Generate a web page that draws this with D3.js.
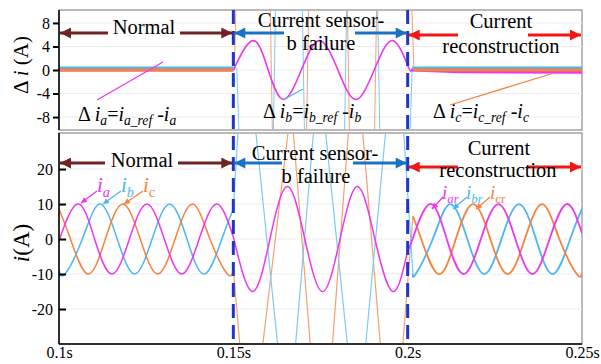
<!DOCTYPE html>
<html>
<head>
<meta charset="utf-8">
<script src="https://cdn.jsdelivr.net/npm/d3@7"></script>
<style>
  body { margin: 0; background: #fff; }
  svg { display: block; font-family: "Liberation Serif", "Times New Roman", serif; }
</style>
</head>
<body>
<svg id="chart" width="601" height="364"></svg>
<script>
// time in ms, current in A
const xTicks = [100, 150, 200, 250];
const topTicks = [8, 4, 0, -4, -8];
const botTicks = [20, 10, 0, -10, -20];
const faultTimes = [150, 200];

// bottom panel: phase currents
const iaNormal = [[100, -0.6], [100.2, 0], [105.2, 10], [110.2, 0], [115.2, -10], [120.2, 0], [125.2, 10], [130.2, 0], [135.2, -10], [140.2, 0], [145.2, 10], [150, 0.6]];
const ibNormal = [[100, -8.6], [101.7, -10], [106.7, 0], [111.7, 10], [116.7, 0], [121.7, -10], [126.7, 0], [131.7, 10], [136.7, 0], [141.7, -10], [146.7, 0], [150, 8.6]];
const icNormal = [[100, 8.6], [103.3, 0], [108.3, -10], [113.3, 0], [118.3, 10], [123.3, 0], [128.3, -10], [133.3, 0], [138.3, 10], [143.3, 0], [148.3, -10], [150, -8.6]];

const iaFail = [[150, 0.6], [155.5, -15], [160.5, 0], [165.5, 15], [170.5, 0], [175.6, -15], [180.6, 0], [185.6, 15], [190.6, 0], [195.7, -15], [200, -3.3]];
const ibFail = [[150, 8.6], [151.5, 33], [156.2, 33], [163, -33], [167.6, -33], [173.2, 33], [176.2, 33], [183, -33], [187.7, -33], [193.9, 33], [198.7, 33], [201.5, -9.8]];
const icFail = [[150, -8.6], [152.1, -33], [158.1, -33], [166, 33], [167, 33], [172.3, -33], [178.2, -33], [183.2, 33], [186.9, 33], [192.4, -33], [198.4, -33], [201.5, 6.5]];

const iaRecon = [[200, -3.3], [201.4, 0], [206.3, 10], [211.2, 0], [216.1, -10], [221, 0], [226, 10], [230.9, 0], [235.8, -10], [240.7, 0], [245.6, 10], [250, 1.7]];
const ibRecon = [[201.5, -9.8], [202.3, -10], [207.2, 0], [212.2, 10], [217.1, 0], [222, -10], [226.9, 0], [231.9, 10], [236.8, 0], [241.7, -10], [246.6, 0], [250, 8.7]];
const icRecon = [[201.5, 6.5], [203.9, 0], [208.9, -10], [213.8, 0], [218.8, 10], [223.7, 0], [228.7, -10], [233.6, 0], [238.6, 10], [243.5, 0], [248.5, -10], [250, -9.7]];

// top panel: current errors
const dIaNormal = [[100, 0], [150, 0]];
const dIbNormal = [[100, 0.35], [150, 0.35]];
const dIcNormal = [[100, 0], [150, 0]];
const dIaFail = [[150, 0], [155.7, 5], [160, 0], [164.4, -5], [169.5, 0], [174.7, 5], [180, 0], [185.1, -5], [190.4, 0], [195.7, 5], [200, 0.8], [201, 0]];
const dIbFail = [[150, 0.35], [151, 0.35], [151.8, -14], [161.4, -14], [162.2, 14], [169.7, 14], [170.5, -14], [181.8, -14], [182.6, 14], [191.3, 14], [192.1, -14], [200.5, -14], [201.3, 0.35]];
const dIcFail = [[150, 0], [150.3, 0], [150.9, 14], [160.5, 14], [161.3, -14], [170.9, -14], [171.7, 14], [182.6, 14], [183.4, -14], [190.4, -14], [191.2, 14], [201, 14], [201.8, 0]];
const dIaRecon = [[201, 0], [215, -0.3], [250, -0.4]];
const dIbRecon = [[201.3, 0.35], [250, 0.35]];
const dIcRecon = [[201.8, 0], [250, 0]];

const FONT = "Liberation Serif, Times New Roman, DejaVu Serif, serif";
const colA = "#ee36ee", colB = "#4db6f2", colC = "#f5823f";
const colBFail = "#7ccaf6", colCFail = "#f6a070";
const colNormal = "#6e2424", colFail = "#1a72c4", colRecon = "#f21616";

const svg = d3.select("#chart");

//scales
const x = d3.scaleLinear().domain([100, 250]).range([59, 582]);
const yTop = d3.scaleLinear().domain([-10.2, 10.2]).range([130, 10]);
const yBot = d3.scaleLinear().domain([-30, 30.3]).range([344, 133]);

const defs = svg.append("defs");
function addClip(id, y) {
  defs.append("clipPath").attr("id", id)
    .append("rect")
    .attr("x", x(100)).attr("y", y.range()[1])
    .attr("width", x(250) - x(100)).attr("height", y.range()[0] - y.range()[1]);
}
addClip("clipTop", yTop);
addClip("clipBot", yBot);

function addMarker(id, color, w, h) {
  defs.append("marker").attr("id", id)
    .attr("viewBox", "0 0 10 10").attr("refX", 10).attr("refY", 5)
    .attr("markerWidth", w).attr("markerHeight", h)
    .attr("markerUnits", "userSpaceOnUse").attr("orient", "auto")
    .append("path").attr("d", "M0,0L10,5L0,10Z").attr("fill", color);
}
addMarker("arNormal", colNormal, 13, 11);
addMarker("arFail", colFail, 13, 11);
addMarker("arRecon", colRecon, 13, 11);
addMarker("smA", colA, 6, 6);
addMarker("smB", colB, 6, 6);
addMarker("smC", colC, 6, 6);

//panel frames and gridlines
function panel(y, ticks) {
  const g = svg.append("g");
  g.append("rect")
    .attr("x", x(100)).attr("y", y.range()[1])
    .attr("width", x(250) - x(100)).attr("height", y.range()[0] - y.range()[1])
    .attr("fill", "#fff").attr("stroke", "#777").attr("stroke-width", 1);
  g.selectAll(".grid").data(ticks).enter().append("line")
    .attr("x1", x(100)).attr("x2", x(250))
    .attr("y1", d => y(d)).attr("y2", d => y(d))
    .attr("stroke", "#ececec").attr("stroke-width", 1);
  return g;
}
panel(yTop, topTicks);
panel(yBot, botTicks);

//line helper
function drawLine(g, data, y, color, width, curve) {
  g.append("path")
    .datum(data)
    .attr("fill", "none")
    .attr("stroke", color)
    .attr("stroke-width", width)
    .attr("stroke-linejoin", "round")
    .attr("d", d3.line().x(d => x(d[0])).y(d => y(d[1])).curve(curve)(data));
}

// top panel curves
const gTop = svg.append("g").attr("clip-path", "url(#clipTop)");
drawLine(gTop, dIcFail, yTop, colCFail, 1, d3.curveLinear);
drawLine(gTop, dIbFail, yTop, colBFail, 1, d3.curveLinear);
drawLine(gTop, dIaFail, yTop, colA, 1.6, d3.curveNatural);
[[dIaNormal, colA], [dIbNormal, colB], [dIcNormal, colC]].forEach(s => drawLine(gTop, s[0], yTop, s[1], 3, d3.curveLinear));
[[dIaRecon, colA], [dIbRecon, colB], [dIcRecon, colC]].forEach(s => drawLine(gTop, s[0], yTop, s[1], 3, d3.curveLinear));

// bottom panel curves
const gBot = svg.append("g").attr("clip-path", "url(#clipBot)");
drawLine(gBot, icFail, yBot, colCFail, 1.2, d3.curveLinear);
drawLine(gBot, ibFail, yBot, colBFail, 1.2, d3.curveLinear);
drawLine(gBot, iaFail, yBot, colA, 1.5, d3.curveNatural);
[[ibNormal, colB], [icNormal, colC], [iaNormal, colA]].forEach(s => drawLine(gBot, s[0], yBot, s[1], 1.5, d3.curveNatural));
[[ibRecon, colB], [icRecon, colC], [iaRecon, colA]].forEach(s => drawLine(gBot, s[0], yBot, s[1], 1.8, d3.curveNatural));

//fault instants
svg.selectAll(".fault").data(faultTimes).enter().append("line")
  .attr("x1", d => x(d)).attr("x2", d => x(d))
  .attr("y1", yTop.range()[1]).attr("y2", yBot.range()[0])
  .attr("stroke", "#1f36c6").attr("stroke-width", 3)
  .attr("stroke-dasharray", "14,7");

//axes
function styleAxis(g) {
  g.select(".domain").remove();
  g.attr("font-family", FONT).attr("font-size", 16);
  g.selectAll("text").attr("fill", "#000");
  g.selectAll("line").attr("stroke", "#000").attr("stroke-width", 2);
}
const topAxis = svg.append("g")
  .attr("transform", `translate(${x(100)},0)`)
  .call(d3.axisLeft(yTop).tickValues(topTicks).tickFormat(d => String(d)).tickSize(6).tickPadding(3));
styleAxis(topAxis);

const botAxis = svg.append("g")
  .attr("transform", `translate(${x(100)},0)`)
  .call(d3.axisLeft(yBot).tickValues(botTicks).tickFormat(d => String(d)).tickSizeInner(-7).tickSizeOuter(0).tickPadding(6));
styleAxis(botAxis);

const xAxis = svg.append("g")
  .attr("transform", `translate(0,${yBot.range()[0]})`)
  .call(d3.axisBottom(x).tickValues(xTicks).tickFormat(d => d / 1000 + "s").tickSize(0).tickPadding(3));
styleAxis(xAxis);

// black left / bottom axis lines
[[yTop.range()[1], yTop.range()[0]], [yBot.range()[1], yBot.range()[0]]].forEach(r => {
  svg.append("line").attr("x1", x(100)).attr("x2", x(100)).attr("y1", r[0]).attr("y2", r[1])
    .attr("stroke", "#000").attr("stroke-width", 1.5);
});
svg.append("line").attr("x1", x(100)).attr("x2", x(250)).attr("y1", yBot.range()[0]).attr("y2", yBot.range()[0])
  .attr("stroke", "#000").attr("stroke-width", 1.5);

//axis titles
function yTitle(cx, cy, size, parts) {
  const t = svg.append("text")
    .attr("transform", `translate(${cx},${cy}) rotate(-90)`)
    .attr("text-anchor", "middle").attr("font-size", size).attr("fill", "#000");
  parts.forEach(p => t.append("tspan").attr("font-style", p[1] ? "italic" : "normal").text(p[0]));
}
yTitle(28, 65, 21, [["Δ ", false], ["i", true], [" (A)", false]]);
yTitle(29, 243, 23, [["i", true], ["(A)", false]]);

//math labels with subscripts
function mathLabel(px, py, size, color, parts) {
  const t = svg.append("text").attr("x", px).attr("y", py)
    .attr("font-size", size).attr("fill", color);
  let shift = 0;
  parts.forEach(p => {
    const sub = p[1] === "s" || p[1] === "sn";
    const target = sub ? Math.round(size * 0.22) : 0;
    t.append("tspan")
      .attr("dy", target - shift)
      .attr("font-size", sub ? size * 0.68 : size)
      .attr("font-style", (p[1] === "i" || p[1] === "s") ? "italic" : "normal")
      .text(p[0]);
    shift = target;
  });
  return t;
}
function deltaParts(k) {
  return [["Δ ", "n"], ["i", "i"], [k, "s"], ["=", "n"], ["i", "i"], [k + "_ref", "s"], [" -", "n"], ["i", "i"], [k, "s"]];
}
mathLabel(78, 121, 20, "#000", deltaParts("a"));
mathLabel(263, 118, 20, "#000", deltaParts("b"));
mathLabel(433, 118, 20, "#000", deltaParts("c"));

// leader lines for top labels
function leader(x1, y1, x2, y2, color, marker) {
  const l = svg.append("line").attr("x1", x1).attr("y1", y1).attr("x2", x2).attr("y2", y2)
    .attr("stroke", color).attr("stroke-width", 1.3);
  if (marker) l.attr("marker-end", `url(#${marker})`);
}
leader(97, 100, 163, 62, colA);
leader(283, 100, 303, 89, colB);
leader(450, 105, 554, 73, colC);

// phase labels in bottom panel
mathLabel(97, 192, 21, colA, [["i", "i"], ["a", "s"]]);
mathLabel(121, 192, 21, colB, [["i", "i"], ["b", "s"]]);
mathLabel(143, 192, 21, colC, [["i", "i"], ["c", "sn"]]);
leader(97, 191, 81, 203, colA, "smA");
leader(121, 191, 103, 204, colB, "smB");
leader(143, 191, 124, 204, colC, "smC");

mathLabel(442, 199, 19, colA, [["i", "i"], ["ar", "s"]]);
mathLabel(466, 199, 19, colB, [["i", "i"], ["br", "s"]]);
mathLabel(490, 199, 19, colC, [["i", "i"], ["cr", "sn"]]);
leader(443, 197, 432, 209, colA, "smA");
leader(467, 197, 453, 209, colB, "smB");
leader(490, 197, 476, 209, colC, "smC");

//region arrows and titles
function regionArrow(t0, t1, y, innerL, innerR, color, marker) {
  const a = x(t0), b = x(t1);
  svg.append("line").attr("x1", innerL).attr("x2", a + 1).attr("y1", y).attr("y2", y)
    .attr("stroke", color).attr("stroke-width", 3).attr("marker-end", `url(#${marker})`);
  svg.append("line").attr("x1", innerR).attr("x2", b - 1).attr("y1", y).attr("y2", y)
    .attr("stroke", color).attr("stroke-width", 3).attr("marker-end", `url(#${marker})`);
}
function title(cx, cy, text) {
  svg.append("text").attr("x", cx).attr("y", cy).attr("text-anchor", "middle")
    .attr("font-size", 20.5).attr("fill", "#000").text(text);
}
// top panel
regionArrow(100, 150, 33, 108, 180, colNormal, "arNormal");
title(144, 34, "Normal");
regionArrow(150, 200, 33, 284, 355, colFail, "arFail");
title(321, 27, "Current sensor-");
title(321, 50, "b failure");
regionArrow(200, 250, 35, 458, 528, colRecon, "arRecon");
title(501, 28, "Current");
title(501, 53, "reconstruction");
// bottom panel
regionArrow(100, 150, 163, 105, 178, colNormal, "arNormal");
title(142, 167, "Normal");
regionArrow(150, 200, 163, 282, 353, colFail, "arFail");
title(315, 160, "Current sensor-");
title(316, 183, "b failure");
regionArrow(200, 250, 167, 458, 527, colRecon, "arRecon");
title(499, 155, "Current");
title(498, 177, "reconstruction");

// make sure every text uses the serif face
svg.selectAll("text").attr("font-family", FONT);
</script>
</body>
</html>
